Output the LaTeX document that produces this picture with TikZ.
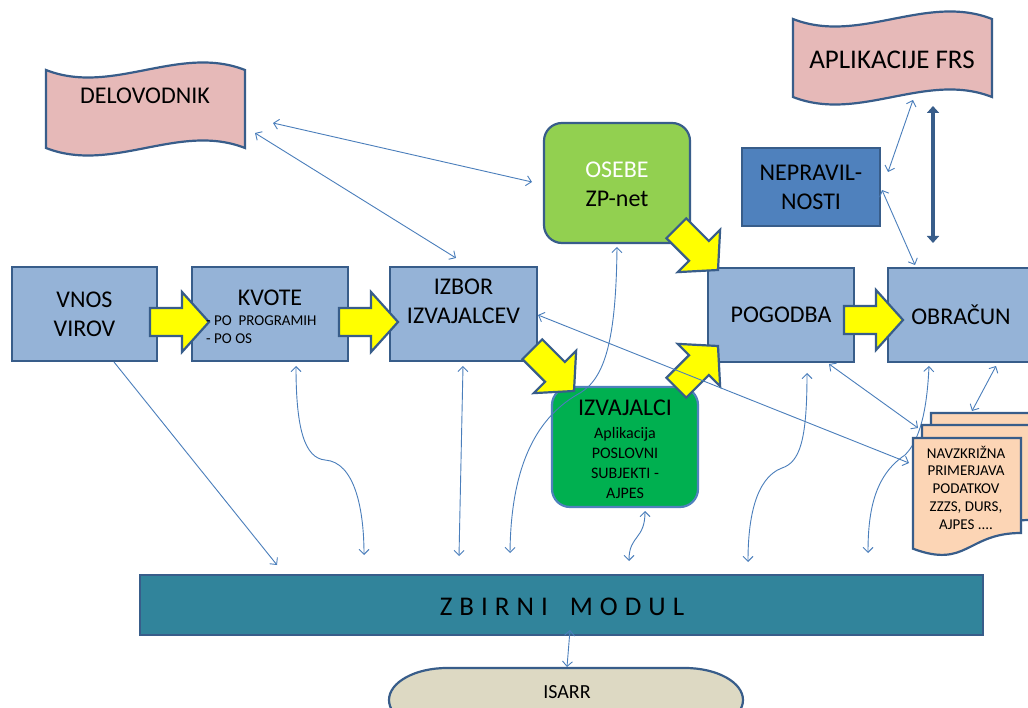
\documentclass[tikz,border=0pt]{standalone}
\usepackage{fontspec}
\setmainfont{Carlito}
\usetikzlibrary{arrows.meta}
\definecolor{bord}{HTML}{385D8A}
\definecolor{lblue}{HTML}{95B3D7}
\definecolor{mblue}{HTML}{4F81BD}
\definecolor{pinkf}{HTML}{E6B9B8}
\definecolor{osg}{HTML}{92D050}
\definecolor{izg}{HTML}{00B050}
\definecolor{docf}{HTML}{FCD5B5}
\definecolor{zbcol}{HTML}{31849B}
\definecolor{isf}{HTML}{DDD9C3}
\definecolor{conc}{HTML}{4A7EBB}
\definecolor{yel}{HTML}{FFFF00}
\newcommand\zsp{\hspace{7pt}}
\begin{document}
\begin{tikzpicture}[x=1pt,y=-1pt,
  lbox/.style={draw=bord,line width=2.2pt,fill=lblue,rectangle,inner sep=0pt},
  bigtxt/.style={font=\fontsize{24}{29}\selectfont,align=center,inner sep=0pt},
  shp/.style={draw=bord,line width=2.2pt},
  thinc/.style={draw=conc,line width=0.9pt,{Straight Barb[length=5pt,width=10pt]}-{Straight Barb[length=5pt,width=10pt]}},
  yfill/.style={draw=bord,line width=2.2pt,fill=yel,line join=miter},
  yarr/.pic={\path[yfill] (0,0) -- (-27,-30) -- (-27,-14) -- (-59,-14) -- (-59,14) -- (-27,14) -- (-27,30) -- cycle;},
  docpage/.pic={\path[shp,fill=docf] (0,0) -- (108,0) -- (108,95) .. controls (54,95) and (54,131) .. (0,110.7) -- cycle;}
]
\useasboundingbox[fill=white] (0,0) rectangle (1028,708);

% wave shapes
\path[shp,fill=pinkf] (46,70) .. controls (112,96) and (179,44) .. (245,70) -- (245,148) .. controls (179,122) and (112,174) .. (46,148) -- cycle;
\node[bigtxt] (delo) at (145,96) {DELOVODNIK};
\path[shp,fill=pinkf] (793,19) .. controls (859,45) and (926,-7) .. (992,19) -- (992,97) .. controls (926,71) and (859,123) .. (793,97) -- cycle;
\node[font=\fontsize{27}{30}\selectfont,inner sep=0pt] (apl) at (892,60) {APLIKACIJE FRS};

% boxes
\node[lbox,bigtxt,minimum width=145pt,minimum height=94pt] (vnos) at (84.5,314) {VNOS\\VIROV};
\node[lbox,minimum width=156pt,minimum height=94pt] (kvote) at (270,314) {};
\node[bigtxt] (kvoteT) at (270,298) {KVOTE};
\node[lbox,minimum width=147pt,minimum height=94pt] (izbor) at (463.5,314) {};
\node[bigtxt] (izborT) at (463.5,301.5) {IZBOR\\IZVAJALCEV};

\node[draw=bord,line width=2.2pt,fill=osg,rounded corners=18pt,minimum width=146pt,minimum height=120pt,inner sep=0pt] (osebe) at (617,183) {};
\node[bigtxt] (osebeT) at (617,184.5) {\textcolor{white}{OSEBE}\\ZP-net};

\node[draw=bord,line width=2.2pt,fill=mblue,minimum width=138pt,minimum height=78pt,inner sep=0pt] (nepr) at (811,187) {};
\node[bigtxt] (neprT) at (811,187.5) {NEPRAVIL-\\NOSTI};

\node[lbox,bigtxt,minimum width=146pt,minimum height=94pt] (pog) at (781,315) {POGODBA};
\node[lbox,minimum width=146pt,minimum height=94pt] (obr) at (961,315) {};
\node[bigtxt] (obrT) at (961,315) {OBRAČUN};

\node[draw=mblue,line width=2.2pt,fill=izg,rounded corners=18pt,minimum width=146pt,minimum height=120pt,inner sep=0pt] (izv) at (625,447) {};
\node[bigtxt] (izvT) at (625,408) {IZVAJALCI};
\node[font=\fontsize{16}{20.3}\selectfont,align=center,inner sep=0pt] (izvS) at (625,463) {Aplikacija\\POSLOVNI\\SUBJEKTI -\\AJPES};

\node[draw=bord,line width=2.2pt,fill=zbcol,minimum width=843pt,minimum height=60pt,inner sep=0pt] (zb) at (561.5,605) {};
\node[font=\fontsize{27}{30}\selectfont,inner sep=0pt] (zbT) at (562,607) {Z\zsp B\zsp I\zsp R\zsp N\zsp I\hspace{22pt}M\zsp O\zsp D\zsp U\zsp L};

\path[shp,fill=isf] (447,668) -- (685,668) .. controls (717,668) and (743,682.3) .. (743,700) .. controls (743,717.7) and (717,732) .. (685,732) -- (447,732) .. controls (415,732) and (389,717.7) .. (389,700) .. controls (389,682.3) and (415,668) .. (447,668) -- cycle;
\node[font=\fontsize{20}{24}\selectfont,inner sep=0pt] (isarr) at (567,692) {ISARR};

% yellow block arrows
\pic at (209,322) {yarr};
\pic at (398,322) {yarr};
\pic at (903,320) {yarr};
\pic[rotate=-45] at (718,270) {yarr};
\pic[rotate=-45] at (574,391) {yarr};
\pic[rotate=45] at (718,346) {yarr};

\node[font=\fontsize{15}{18}\selectfont,align=left,anchor=west,inner sep=0pt] (kvoteS) at (206,330) {- PO\ \ PROGRAMIH\\- PO OS};

% connector end points
\coordinate (c1a) at (273,123); \coordinate (c1b) at (532,182);
\coordinate (c2a) at (255,133); \coordinate (c2b) at (456,258);
\coordinate (c3a) at (114,362); \coordinate (c3b) at (277,565);
\coordinate (c4a) at (296,366); \coordinate (c4m) at (325,460); \coordinate (c4b) at (364,555);
\coordinate (c5a) at (463,366); \coordinate (c5b) at (459,556);
\coordinate (c6a) at (617,247); \coordinate (c6m) at (580,393); \coordinate (c6b) at (510,553);
\coordinate (c7a) at (645,511); \coordinate (c7b) at (629,561);
\coordinate (c8a) at (807,373); \coordinate (c8m) at (782,468); \coordinate (c8b) at (748,562);
\coordinate (c9a) at (829,364); \coordinate (c9b) at (918,428);
\coordinate (c10a) at (538,315); \coordinate (c10b) at (909,463);
\coordinate (c11a) at (929,366); \coordinate (c11m) at (905,455); \coordinate (c11b) at (868,553);
\coordinate (c12a) at (996,366); \coordinate (c12b) at (972,411);
\coordinate (c13a) at (888,172); \coordinate (c13b) at (913,100);
\coordinate (c14a) at (882,190); \coordinate (c14b) at (915,265);
\coordinate (c15a) at (933,106); \coordinate (c15b) at (933,243);
\coordinate (c16a) at (570,630); \coordinate (c16b) at (567,667);

% connectors
\draw[thinc] (c11a) .. controls +(-2,44) and +(15,-15) .. (c11m) .. controls +(-30,20) and +(0,-43) .. (c11b);
\draw[thinc] (c9a) -- (c9b);
\draw[thinc] (c10a) -- (c10b);
\draw[thinc] (c12a) -- (c12b);

% document stack
\pic at (931,413) {docpage};
\pic at (922,425) {docpage};
\pic at (913,438) {docpage};
\node[font=\fontsize{15}{17.75}\selectfont,align=center,inner sep=0pt] (navz) at (966,487.5) {NAVZKRIŽNA\\PRIMERJAVA\\PODATKOV\\ZZZS, DURS,\\AJPES ....};

\draw[thinc] (c1a) -- (c1b);
\draw[thinc] (c2a) -- (c2b);
\draw[draw=conc,line width=0.9pt,-{Straight Barb[length=5pt,width=10pt]}] (c3a) -- (c3b);
\draw[thinc] (c4a) .. controls +(0,64) and +(-20,-2) .. (c4m) .. controls +(30,2) and +(0,-45) .. (c4b);
\draw[thinc] (c5a) -- (c5b);
\draw[thinc] (c6a) .. controls +(-1,93) and +(25,-15) .. (c6m) .. controls +(-40,22) and +(1,-93) .. (c6b);
\draw[thinc] (c7a) .. controls +(0,29) and +(0,-26) .. (c7b);
\draw[thinc] (c8a) .. controls +(0,67) and +(18,-6) .. (c8m) .. controls +(-27,10) and +(0,-42) .. (c8b);
\draw[thinc] (c13a) -- (c13b);
\draw[thinc] (c14a) -- (c14b);
\draw[thinc] (c16a) -- (c16b);
\draw[draw=bord,line width=4pt,{Triangle[length=7pt,width=12pt]}-{Triangle[length=7pt,width=12pt]}] (c15a) -- (c15b);
\end{tikzpicture}
\end{document}
